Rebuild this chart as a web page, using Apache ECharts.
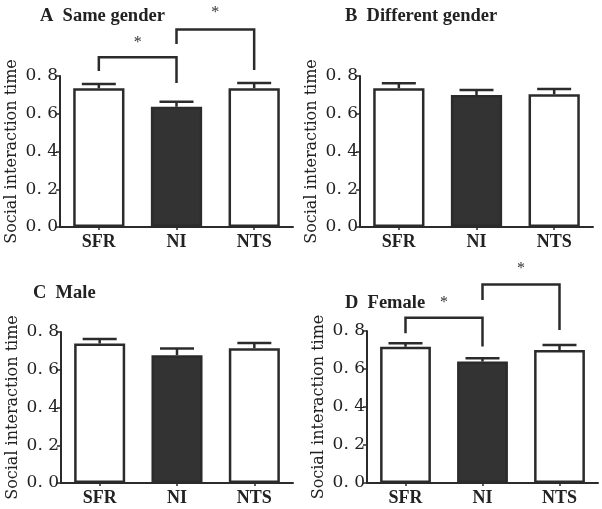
<!DOCTYPE html>
<html><head><meta charset="utf-8">
<script src="https://cdn.jsdelivr.net/npm/echarts@6/dist/echarts.min.js"></script>
<style>html,body{margin:0;padding:0;background:#fff}#c{width:602px;height:509px}</style>
</head><body><div id="c"></div>
<script>
var categories = ['SFR', 'NI', 'NTS'];
var yTickLabels = ['0. 0', '0. 2', '0. 4', '0. 6', '0. 8'];
var panelTitles = ['A  Same gender', 'B  Different gender', 'C  Male', 'D  Female'];
var yAxisName = 'Social interaction time';

var meanA = [0.735, 0.637, 0.735];
var errA  = [0.022, 0.027, 0.028];
var meanB = [0.735, 0.699, 0.703];
var errB  = [0.026, 0.027, 0.028];
var meanC = [0.739, 0.677, 0.714];
var errC  = [0.024, 0.035, 0.028];
var meanD = [0.717, 0.639, 0.700];
var errD  = [0.018, 0.018, 0.026];

// brackets: [fromIndex, toIndex, top, leftBottom, rightBottom, starY]
var bracketsA = [[0, 1, 0.899, 0.827, 0.763, 0.975], [1, 2, 1.047, 0.970, 0.832, 1.134]];
var bracketsB = [];
var bracketsC = [];
var bracketsD = [[0, 1, 0.870, 0.788, 0.718, 0.947], [1, 2, 1.045, 0.963, 0.805, 1.126]];

var means = [meanA, meanB, meanC, meanD];
var errs = [errA, errB, errC, errD];
var brackets = [bracketsA, bracketsB, bracketsC, bracketsD];

var ink = '#2b2b2b';
var grids = [
  {left: 60, top: 76, width: 233, height: 151},
  {left: 360, top: 76, width: 233, height: 151},
  {left: 61, top: 332, width: 232, height: 151},
  {left: 367, top: 331, width: 231, height: 152}
];
var titlePos = [[40, 7], [345, 7], [33, 284], [345, 294]];

var chart = echarts.init(document.getElementById('c'));
var option = {
  backgroundColor: '#fff',
  animation: false,
  title: [], grid: [], xAxis: [], yAxis: [], series: []
};
grids.forEach(function (g, i) {
  option.grid.push(g);
  option.title.push({
    text: panelTitles[i], left: titlePos[i][0], top: titlePos[i][1], padding: 0,
    textStyle: {fontFamily: 'Liberation Serif', fontWeight: 'bold', fontSize: 18.5, color: '#222'}
  });
  option.xAxis.push({
    type: 'category', gridIndex: i, data: categories,
    axisLine: {lineStyle: {color: ink, width: 2}},
    axisTick: {show: true, alignWithLabel: true, length: 3, lineStyle: {color: ink, width: 1.5}},
    axisLabel: {fontFamily: 'Liberation Serif', fontWeight: 'bold', fontSize: 18, color: '#222', margin: 6}
  });
  option.yAxis.push({
    type: 'value', gridIndex: i, min: 0, max: 0.8, interval: 0.2,
    splitLine: {show: false},
    axisLine: {show: true, lineStyle: {color: ink, width: 2}},
    axisTick: {show: true, length: 4, lineStyle: {color: ink, width: 1.5}},
    axisLabel: {
      fontFamily: 'DejaVu Serif', fontSize: 17, color: '#222', margin: 2,
      formatter: function (v) { return yTickLabels[Math.round(v / 0.2)]; }
    },
    name: yAxisName, nameLocation: 'middle', nameGap: 40,
    nameTextStyle: {fontFamily: 'DejaVu Serif', fontSize: 16, color: '#222'}
  });
  option.series.push({
    type: 'bar', xAxisIndex: i, yAxisIndex: i, barWidth: '66%',
    data: means[i].map(function (v, k) {
      return {value: v, itemStyle: {color: k === 1 ? '#333' : '#fff'}};
    }),
    itemStyle: {borderColor: ink, borderWidth: 2.5}
  });
  var m = means[i], e = errs[i];
  option.series.push({
    type: 'custom', xAxisIndex: i, yAxisIndex: i,
    data: m.map(function (v, k) { return [k, v, v + e[k]]; }),
    renderItem: function (params, api) {
      var lo = api.coord([api.value(0), api.value(1)]);
      var hi = api.coord([api.value(0), api.value(2)]);
      var hw = 17;
      return {type: 'group', children: [
        {type: 'line', shape: {x1: lo[0], y1: lo[1], x2: hi[0], y2: hi[1]}, style: {stroke: ink, lineWidth: 2.5}},
        {type: 'line', shape: {x1: hi[0] - hw, y1: hi[1], x2: hi[0] + hw, y2: hi[1]}, style: {stroke: ink, lineWidth: 2.5}}
      ]};
    },
    z: 3
  });
  if (brackets[i].length) {
    option.series.push({
      type: 'custom', xAxisIndex: i, yAxisIndex: i, clip: false,
      data: brackets[i],
      renderItem: function (params, api) {
        var a = api.coord([api.value(0), api.value(3)]);
        var at = api.coord([api.value(0), api.value(2)]);
        var b = api.coord([api.value(1), api.value(4)]);
        var bt = api.coord([api.value(1), api.value(2)]);
        var s = api.coord([api.value(0), api.value(5)]);
        var sx = (a[0] + b[0]) / 2;
        return {type: 'group', children: [
          {type: 'polyline', shape: {points: [a, at, bt, b]}, style: {stroke: ink, lineWidth: 2.5, fill: null}},
          {type: 'text', x: sx, y: s[1], style: {text: '*', fontFamily: 'Liberation Serif', fontSize: 16, fill: '#333', align: 'center', verticalAlign: 'middle'}}
        ]};
      },
      z: 4
    });
  }
});
chart.setOption(option);
</script></body></html>
